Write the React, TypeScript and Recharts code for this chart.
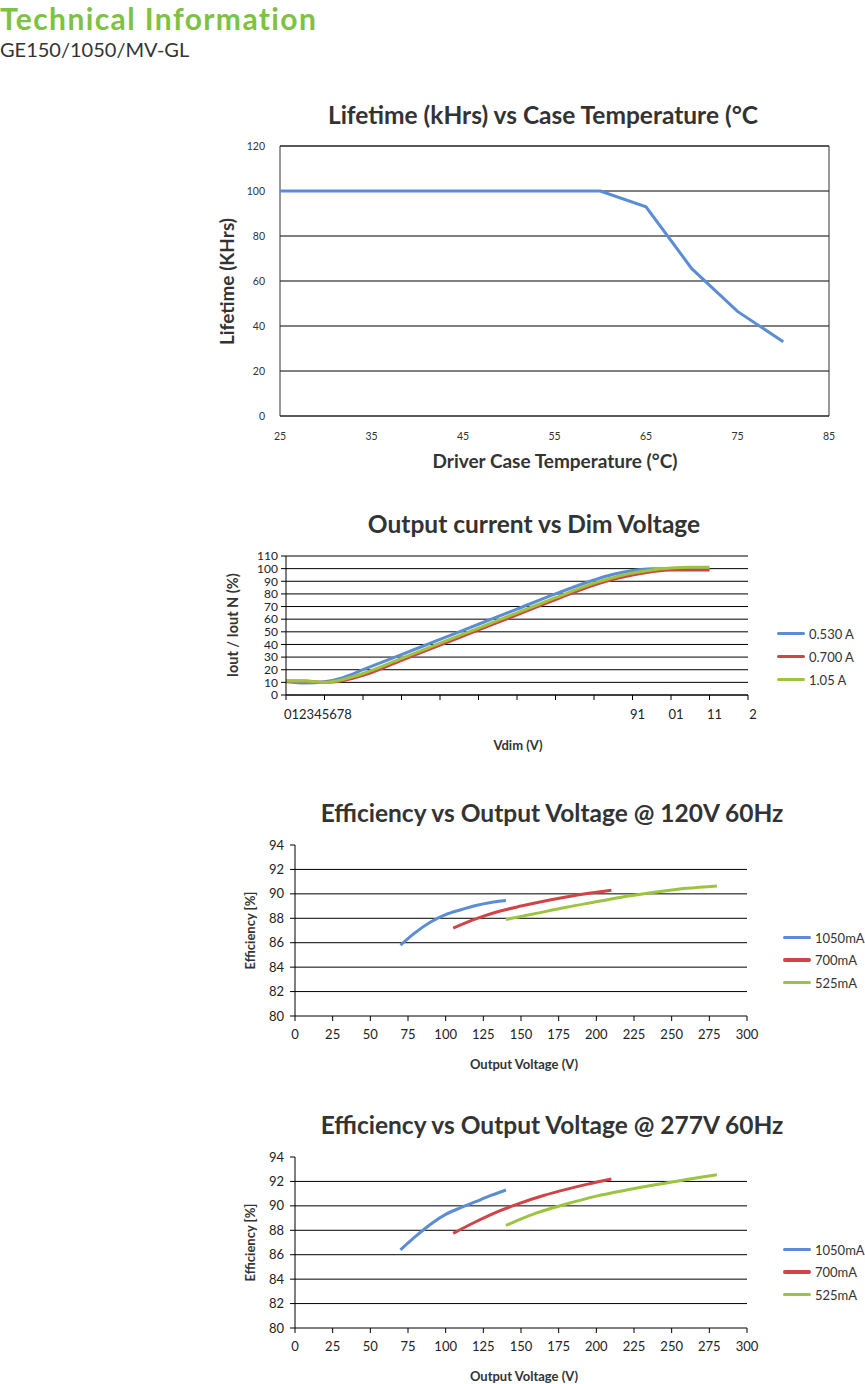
import React from 'react';
import {
  LineChart, Line, XAxis, YAxis, CartesianGrid, ReferenceLine, ReferenceArea,
} from 'recharts';

// ---- Lifetime vs case temperature ----
const CASE_TEMP = [25, 60, 65, 70, 75, 80];
const LIFETIME = [100, 100, 93, 65.5, 46.5, 33];
const TEMP_TICKS = [25, 35, 45, 55, 65, 75, 85];
const LIFE_TICKS = [0, 20, 40, 60, 80, 100, 120];

// ---- Output current vs dim voltage ----
const VDIM = [0, 0.5, 1, 1.5, 2, 3, 4, 5, 6, 7, 8, 8.5, 9, 9.5, 10, 10.5, 11];
const IOUT_530 = [10.5, 9.5, 10.5, 14, 20, 32, 44, 56, 68, 80, 91, 95.5, 98.5, 100, 100, 100, 100];
const IOUT_700 = [11, 11, 10, 11.5, 15.5, 27.5, 39.5, 51.5, 63.5, 75.5, 87, 91.5, 95, 97.5, 99, 99, 99];
const IOUT_1050 = [11, 11, 10, 12.5, 17, 29, 41, 53, 65, 77, 88.5, 93, 96.5, 99, 100.5, 101, 101];
const VDIM_TICKS = [0, 1, 2, 3, 4, 5, 6, 7, 8, 9, 10, 11, 12];
const VDIM_TICK_LABELS = ['012345678', '', '', '', '', '', '', '', '', '91', '01', '11', '2'];
const IOUT_TICKS = [0, 10, 20, 30, 40, 50, 60, 70, 80, 90, 100, 110];
const DIM_SERIES = [
  { key: 'a530', name: '0.530 A', values: IOUT_530, color: '#5b8dd3' },
  { key: 'a700', name: '0.700 A', values: IOUT_700, color: '#cf4547' },
  { key: 'a1050', name: '1.05 A', values: IOUT_1050, color: '#9cc43f' },
];

// ---- Efficiency vs output voltage ----
const V_1050 = [70, 80, 90, 100, 110, 120, 130, 140];
const V_700 = [105, 120, 135, 150, 165, 180, 195, 210];
const V_525 = [140, 160, 180, 200, 220, 240, 260, 280];
const EFF120_1050 = [85.8, 86.85, 87.7, 88.3, 88.7, 89.05, 89.3, 89.45];
const EFF120_700 = [87.2, 87.95, 88.55, 89.0, 89.4, 89.75, 90.05, 90.3];
const EFF120_525 = [87.9, 88.4, 88.9, 89.35, 89.8, 90.15, 90.45, 90.65];
const EFF277_1050 = [86.4, 87.5, 88.5, 89.3, 89.85, 90.35, 90.85, 91.3];
const EFF277_700 = [87.75, 88.7, 89.55, 90.25, 90.85, 91.35, 91.8, 92.2];
const EFF277_525 = [88.4, 89.4, 90.15, 90.8, 91.3, 91.75, 92.15, 92.55];
const VOUT_TICKS = [0, 25, 50, 75, 100, 125, 150, 175, 200, 225, 250, 275, 300];
const EFF_TICKS = [80, 82, 84, 86, 88, 90, 92, 94];
const EFF_GRID = [82, 84, 86, 88, 90, 92];
const EFF_NAMES = ['1050mA', '700mA', '525mA'];
const EFF_COLORS = ['#5b8dd3', '#cf4547', '#9cc43f'];

const FONT = 'Lato, "Open Sans", sans-serif';
const TEXT = '#333';

const pts = (xs: number[], ys: number[]) => xs.map((x, i) => ({ x, y: ys[i] }));

function Abs({ left, top, width, size, bold, color = TEXT, rotate, children }: any) {
  return (
    <div style={{
      position: 'absolute', left, top, width, textAlign: 'center', fontSize: size,
      fontWeight: bold ? 700 : 400, color, whiteSpace: 'nowrap', lineHeight: 1,
      fontFamily: FONT, transform: rotate ? 'rotate(-90deg)' : undefined,
    }}>{children}</div>
  );
}

// centered text helper (cx, cy = centre of text)
const Centered = ({ cx, cy, size, bold, rotate, children, color }: any) => (
  <Abs left={cx - 250} top={cy - size / 2} width={500} size={size} bold={bold} rotate={rotate} color={color}>
    {children}
  </Abs>
);

function Legend({ left, top, gap, items }: any) {
  return (
    <div style={{ position: 'absolute', left, top, fontFamily: FONT, fontSize: 13, color: TEXT }}>
      {items.map((it: any, i: number) => (
        <div key={it.name} style={{ position: 'absolute', top: i * gap, left: 0, display: 'flex', alignItems: 'center', whiteSpace: 'nowrap', height: 15 }}>
          <span style={{ width: 28, height: 3.5, background: it.color, borderRadius: 2, display: 'inline-block', marginRight: 4 }} />
          <span>{it.name}</span>
        </div>
      ))}
    </div>
  );
}

function EfficiencyChart({ top, title, e1050, e700, e525 }: any) {
  const series = [pts(V_1050, e1050), pts(V_700, e700), pts(V_525, e525)];
  return (
    <>
      <Centered cx={552} cy={top - 32} size={24.5} bold>{title}</Centered>
      <div style={{ position: 'absolute', left: 0, top: top - 10 }}>
        <LineChart width={865} height={240} margin={{ top: 10, right: 118, bottom: 35, left: 255 }}>
          <XAxis type="number" dataKey="x" domain={[0, 300]} ticks={VOUT_TICKS} interval={0}
            stroke="#000" tickSize={5} tickMargin={9} height={24}
            tick={{ fontSize: 13, fill: '#222', fontFamily: FONT }} />
          <YAxis type="number" dataKey="y" domain={[80, 94]} ticks={EFF_TICKS} interval={0}
            stroke="#000" tickSize={5} tickMargin={6} width={40}
            tick={{ fontSize: 13, fill: '#222', fontFamily: FONT }} />
          {EFF_GRID.map(v => (
            <ReferenceLine key={v} y={v} stroke="#000" strokeWidth={1} />
          ))}
          {series.map((d, i) => (
            <Line key={EFF_NAMES[i]} data={d} dataKey="y" type="monotone" stroke={EFF_COLORS[i]}
              strokeWidth={3} dot={false} isAnimationActive={false} />
          ))}
        </LineChart>
      </div>
      <Centered cx={250} cy={top + 85} size={13} bold rotate>Efficiency [%]</Centered>
      <Centered cx={524} cy={top + 219} size={13} bold>Output Voltage (V)</Centered>
      <Legend left={783} top={top + 85} gap={22.5}
        items={EFF_NAMES.map((n, i) => ({ name: n, color: EFF_COLORS[i] }))} />
    </>
  );
}

export default function App() {
  const lifeData = pts(CASE_TEMP, LIFETIME);
  const dimData = VDIM.map((v, i) => ({
    v, a530: IOUT_530[i], a700: IOUT_700[i], a1050: IOUT_1050[i],
  }));

  const vdimTick = (p: any) => {
    const label = VDIM_TICK_LABELS[VDIM_TICKS.indexOf(p.payload.value)];
    if (!label) return <g />;
    const first = p.payload.value === 0;
    return (
      <text x={first ? p.x - 2 : p.x + 5} y={p.y + 17} textAnchor={first ? 'start' : 'middle'}
        fontSize={13} fill="#222" fontFamily={FONT}>{label}</text>
    );
  };

  return (
    <div style={{ position: 'absolute', left: 0, top: 0, width: 865, height: 1384, background: '#fff', overflow: 'hidden', fontFamily: FONT }}>
      {/* page header */}
      <div style={{ position: 'absolute', left: 0, top: 0, fontSize: 30, letterSpacing: 1.4, fontWeight: 700, color: '#7dc242', whiteSpace: 'nowrap' }}>
        Technical Information
      </div>
      <div style={{ position: 'absolute', left: 0, top: 37, fontSize: 20, color: TEXT, whiteSpace: 'nowrap' }}>
        GE150/1050/MV-GL
      </div>

      {/* Lifetime chart */}
      <Centered cx={543} cy={115} size={24.5} bold>Lifetime (kHrs) vs Case Temperature (°C</Centered>
      <div style={{ position: 'absolute', left: 0, top: 0 }}>
        <LineChart width={865} height={470} margin={{ top: 146, right: 36, bottom: 24, left: 240 }}>
          <CartesianGrid horizontal vertical={false} stroke="#000" />
          <XAxis type="number" dataKey="x" domain={[25, 85]} ticks={TEMP_TICKS} interval={0}
            axisLine={false} tickLine={false} tickSize={0} tickMargin={17} height={30}
            tick={{ fontSize: 10.5, fill: TEXT, fontFamily: FONT }} />
          <YAxis type="number" dataKey="y" domain={[0, 120]} ticks={LIFE_TICKS} interval={0}
            axisLine={false} tickLine={false} tickSize={0} tickMargin={15} width={40}
            tick={{ fontSize: 10.5, fill: TEXT, fontFamily: FONT }} />
          <ReferenceArea x1={25} x2={85} y1={0} y2={120} fill="none" stroke="#333" strokeWidth={1} />
          <Line data={lifeData} dataKey="y" type="linear" stroke="#5b8dd3" strokeWidth={3}
            dot={false} isAnimationActive={false} />
        </LineChart>
      </div>
      <Centered cx={226} cy={281} size={19} bold rotate>Lifetime (KHrs)</Centered>
      <Centered cx={555} cy={460} size={19} bold>Driver Case Temperature (°C)</Centered>

      {/* Dim chart */}
      <Centered cx={534} cy={524} size={24.5} bold>Output current vs Dim Voltage</Centered>
      <div style={{ position: 'absolute', left: 0, top: 540 }}>
        <LineChart width={865} height={230} data={dimData} margin={{ top: 16, right: 117, bottom: 45, left: 246 }}>
          <CartesianGrid horizontal vertical={false} stroke="#000" />
          <XAxis type="number" dataKey="v" domain={[0, 12]} ticks={VDIM_TICKS} interval={0}
            stroke="#000" tickSize={5} tickMargin={2} height={30} tick={vdimTick} />
          <YAxis type="number" domain={[0, 110]} ticks={IOUT_TICKS} interval={0}
            stroke="#000" tickSize={5} tickMargin={3} width={40}
            tick={{ fontSize: 12, fill: '#222', fontFamily: FONT }} />
          {DIM_SERIES.map(s => (
            <Line key={s.key} dataKey={s.key} name={s.name} type="monotone" stroke={s.color}
              strokeWidth={3} dot={false} isAnimationActive={false} />
          ))}
        </LineChart>
      </div>
      <Centered cx={233} cy={625} size={14.5} bold rotate>Iout / Iout N (%)</Centered>
      <Centered cx={518} cy={745} size={13} bold>Vdim (V)</Centered>
      <Legend left={777} top={626} gap={23} items={DIM_SERIES} />

      <EfficiencyChart top={845} title="Efficiency vs Output Voltage @ 120V 60Hz"
        e1050={EFF120_1050} e700={EFF120_700} e525={EFF120_525} />
      <EfficiencyChart top={1157} title="Efficiency vs Output Voltage @ 277V 60Hz"
        e1050={EFF277_1050} e700={EFF277_700} e525={EFF277_525} />
    </div>
  );
}
